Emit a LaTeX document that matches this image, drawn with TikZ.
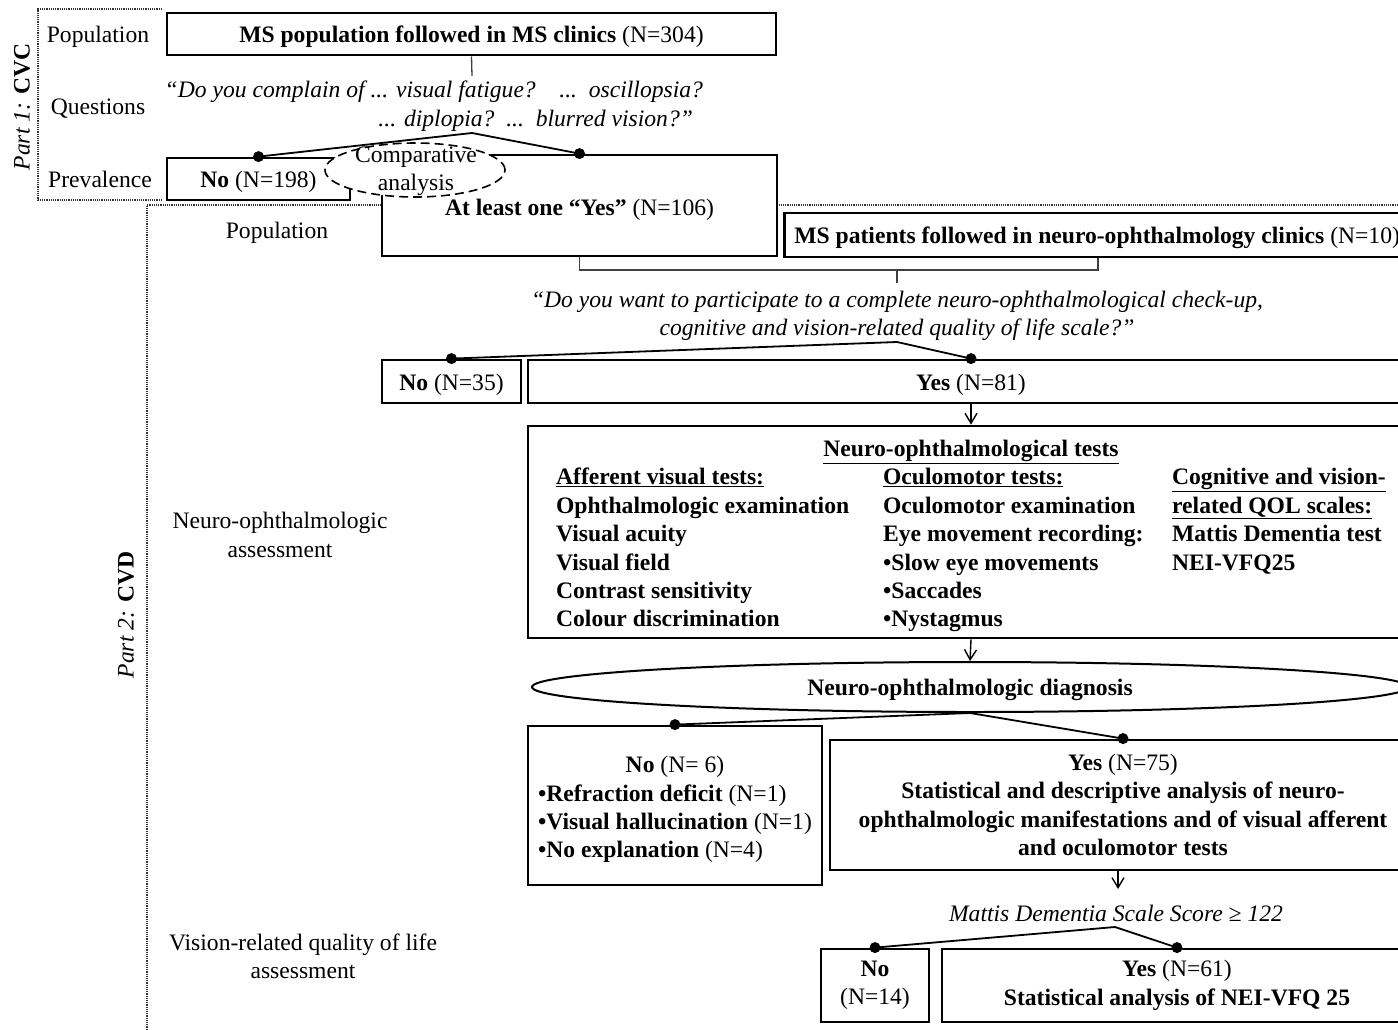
\documentclass[tikz,border=0pt]{standalone}
\usepackage{fontspec}
\setmainfont{Liberation Serif}
\usepackage{tikz}
\usetikzlibrary{shapes.geometric,arrows.meta}

\newcommand{\boxstrut}{\rule{0pt}{22.5pt}}
\newcommand{\rowstrut}{\rule{0pt}{28pt}}

\tikzset{
  box/.style={draw,line width=2.8pt,fill=white,inner sep=0pt,align=center,
    execute at begin node=\boxstrut},
  lbl/.style={align=center},
  quest/.style={font=\itshape,align=center},
  link/.style={draw=black!75,line width=1.3pt},
  split/.style={line width=1.8pt},
  blob/.style={circle,fill=black,inner sep=0pt,minimum size=11pt},
  down/.style={-{Straight Barb[length=10pt,width=12pt]},line width=1.4pt},
  part/.style={densely dotted,line width=1.2pt,draw=black!80}
}

\begin{document}
\fontsize{23.6}{28.4}\selectfont
\begin{tikzpicture}[x=1pt,y=-1pt]
\useasboundingbox (0,0) rectangle (1398,1029);
\clip (0,0) rectangle (1398,1029);

% frames of the two parts
\draw[part] (162,9) -- (38,9) -- (38,200) -- (162,200);
\draw[part] (1398,205) -- (147,205) -- (147,1029);

\node[rotate=90] (part1) at (22,107) {\textit{Part 1:} \textbf{CVC}};
\node[rotate=90] (part2) at (126,615) {\textit{Part 2:} \textbf{CVD}};

\begin{scope}[every node/.style={lbl}]
  \node (lpop1) at (98,37) {Population};
  \node (lquest) at (98,109) {Questions};
  \node (lprev) at (100,179) {Prevalence};
  \node (lpop2) at (277,233) {Population};
  \node (lneuro) at (280,535) {Neuro-ophthalmologic\\assessment};
  \node (lqol) at (303,956) {Vision-related quality of life\\assessment};
\end{scope}

\begin{scope}[every node/.style={box}]
  \node[minimum width=609pt,minimum height=42pt] (pop) at (471.5,34)
    {\textbf{MS population followed in MS clinics} (N=304)};
  \node[minimum width=183pt,minimum height=42pt] (no1) at (258.5,179)
    {\textbf{No} (N=198)};
  \node[minimum width=395pt,minimum height=101pt] (yes1) at (579.5,205.5)
    {\rule{0pt}{26pt}\textbf{At least one “Yes”} (N=106)};
  \node[anchor=west,minimum height=44pt,inner xsep=10pt] (clinic) at (783,235)
    {\textbf{MS patients followed in neuro-ophthalmology clinics} (N=10)};
  \node[minimum width=139pt,minimum height=43pt] (no2) at (451.5,381.5)
    {\textbf{No} (N=35)};
  \node[minimum width=886pt,minimum height=43pt] (yes2) at (971,381.5)
    {\textbf{Yes} (N=81)};
  \node[minimum width=886pt,minimum height=212pt] (tests) at (971,532) {%
    \begin{tabular}{@{}p{327pt}@{}p{289pt}@{}l@{}}
    \multicolumn{3}{@{}c@{}}{\rowstrut\underline{\textbf{Neuro-ophthalmological tests}}}\\
    \underline{\textbf{Afferent visual tests:}} & \underline{\textbf{Oculomotor tests:}} & \underline{\textbf{Cognitive and vision-}}\\
    \textbf{Ophthalmologic examination} & \textbf{Oculomotor examination} & \underline{\textbf{related QOL scales:}}\\
    \textbf{Visual acuity} & \textbf{Eye movement recording:} & \textbf{Mattis Dementia test}\\
    \textbf{Visual field} & \textbf{•Slow eye movements} & \textbf{NEI-VFQ25}\\
    \textbf{Contrast sensitivity} & \textbf{•Saccades} & \\
    \textbf{Colour discrimination} & \textbf{•Nystagmus} &
    \end{tabular}};
  \node[minimum width=294pt,minimum height=159pt] (no3) at (675,805.5) {%
    \begin{tabular}{@{}l@{}}
    \multicolumn{1}{@{}c@{}}{\rowstrut\textbf{No} (N= 6)}\\
    \textbf{•Refraction deficit} (N=1)\\
    \textbf{•Visual hallucination} (N=1)\\
    \textbf{•No explanation} (N=4)
    \end{tabular}};
  \node[minimum width=586pt,minimum height=130pt] (yes3) at (1123,805)
    {\textbf{Yes} (N=75)\\\textbf{Statistical and descriptive analysis of neuro-}\\
     \textbf{ophthalmologic manifestations and of visual afferent}\\\textbf{and oculomotor tests}};
  \node[minimum width=108pt,minimum height=73pt] (no4) at (875,985.5)
    {\textbf{No}\\(N=14)};
  \node[minimum width=470pt,minimum height=73pt] (yes4) at (1177,985.5)
    {\textbf{Yes} (N=61)\\\textbf{Statistical analysis of NEI-VFQ 25}};
\end{scope}

\node[draw,dashed,dash pattern=on 9pt off 5pt,ellipse,fill=white,line width=1.6pt,
      minimum width=180pt,minimum height=54pt,inner sep=0pt] (comp) at (415,170) {};
\node[lbl] (comptxt) at (416,171) {Comparative\\analysis};

\node[draw,ellipse,line width=2pt,fill=white,minimum width=876pt,minimum height=50pt,
      inner sep=0pt] (diag) at (970,687) {\boxstrut\textbf{Neuro-ophthalmologic diagnosis}};

\node[quest,align=right,anchor=east] (q1) at (711,106)
  {“Do you complain of ... visual fatigue?\quad...\enspace oscillopsia?\\
   ... diplopia?\enspace ...\enspace blurred vision?”\hspace*{10pt}};
\node[quest] (q2) at (897,316)
  {“Do you want to participate to a complete neuro-ophthalmological check-up,\\
   cognitive and vision-related quality of life scale?”};
\node[quest] (mattis) at (1116,913) {Mattis Dementia Scale Score ≥ 122};

\coordinate (q1top) at (472,76);
\coordinate (q1split) at (472,133);
\coordinate (joinR) at (1098,270);
\coordinate (q2top) at (897,283);
\coordinate (q2split) at (897,342);
\coordinate (mattisin) at (1118,889);
\coordinate (q4split) at (1115,927);

\draw[link] (pop.south) -- (q1top);
\draw[link] (yes1.south) |- (joinR) -- (joinR |- clinic.south);
\draw[link] (q2top |- joinR) -- (q2top);

\draw[split] (no1.north) -- (q1split) -- (yes1.north);
\draw[split] (no2.north) -- (q2split) -- (yes2.north);
\draw[split] (no3.north) -- (diag.south) -- (yes3.north);
\draw[split] (no4.north) -- (q4split) -- (yes4.north);

\foreach \b in {no1,yes1,no2,yes2,no3,yes3,no4,yes4}
  \node[blob] (\b dot) at (\b.north) {};

\draw[down] (yes2.south) -- (tests.north);
\draw[down] (tests.south) -- (diag.north);
\draw[down] (yes3.south -| mattisin) -- (mattisin);
\end{tikzpicture}
\end{document}
